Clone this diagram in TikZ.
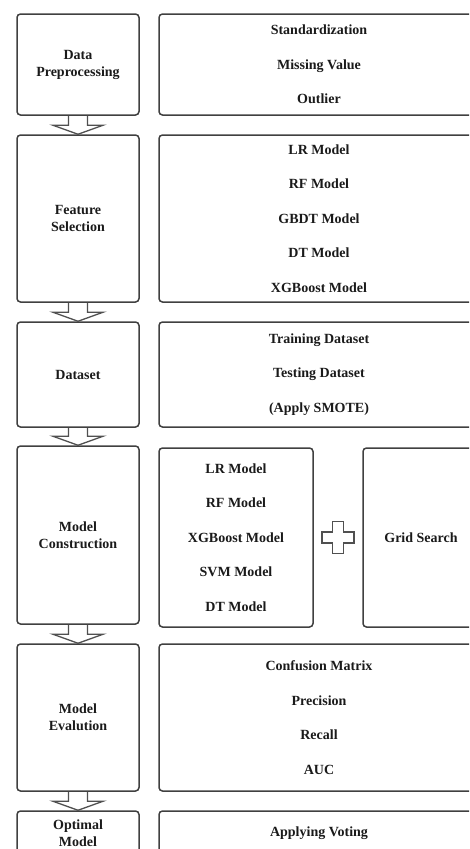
\documentclass[tikz,border=0pt]{standalone}
\usepackage{fontspec}
\setmainfont{Liberation Serif}
\usetikzlibrary{calc}
\definecolor{linec}{HTML}{404040}
\definecolor{arrc}{HTML}{505050}
\definecolor{txtc}{HTML}{1A1A1A}
\newcommand\blockarrow[2]{%
  \draw[arr] ($(#1.south)+(-9.5,0)$) -- ($(#2.north)+(-9.5,-9)$) -- ($(#2.north)+(-25,-9)$) -- (#2.north)
    -- ($(#2.north)+(25,-9)$) -- ($(#2.north)+(9.5,-9)$) -- ($(#1.south)+(9.5,0)$);}
\begin{document}
\begin{tikzpicture}[x=1pt,y=-1pt,
  box/.style={draw=linec, line width=1.5pt, rounded corners=3.5pt, inner sep=0pt, text=txtc, align=center},
  lft/.style={box, minimum width=122pt, font=\bfseries\fontsize{14}{17}\selectfont},
  rgt/.style={box, minimum width=320pt, font=\bfseries\fontsize{14}{34.5}\selectfont},
  arr/.style={draw=arrc, line width=1.3pt, line join=miter},
]
\useasboundingbox (0,0) rectangle (469,849);
\clip (0,0) rectangle (469,849);

% row 1
\node[lft, minimum height=101pt] (l1) at (78,64.5) {Data\\Preprocessing};
\node[rgt, minimum height=101pt] (r1) at (319,64.5) {Standardization\\Missing Value\\Outlier};
% row 2
\node[lft, minimum height=167pt] (l2) at (78,218.5) {Feature\\Selection};
\node[rgt, minimum height=167pt] (r2) at (319,218.5) {LR Model\\RF Model\\GBDT Model\\DT Model\\XGBoost Model};
% row 3
\node[lft, minimum height=105pt] (l3) at (78,374.5) {Dataset};
\node[rgt, minimum height=105pt] (r3) at (319,374.5) {Training Dataset\\Testing Dataset\\(Apply SMOTE)};
% row 4
\node[lft, minimum height=178pt] (l4) at (78,535) {Model\\Construction};
\node[box, minimum width=154pt, minimum height=179pt, font=\bfseries\fontsize{14}{34.5}\selectfont] (m4) at (236,537.5) {LR Model\\RF Model\\XGBoost Model\\SVM Model\\DT Model};
\node[box, minimum width=116pt, minimum height=179pt, font=\bfseries\fontsize{14}{17}\selectfont] (g4) at (421,537.5) {Grid Search};
% row 5
\node[lft, minimum height=147pt] (l5) at (78,717.5) {Model\\Evalution};
\node[rgt, minimum height=147pt] (r5) at (319,717.5) {Confusion Matrix\\Precision\\Recall\\AUC};
% row 6
\node[lft, minimum height=44pt] (l6) at (78,833) {Optimal\\Model};
\node[rgt, minimum height=44pt] (r6) at (319,833) {Applying Voting};

% block arrows
\blockarrow{l1}{l2}
\blockarrow{l2}{l3}
\blockarrow{l3}{l4}
\blockarrow{l4}{l5}
\blockarrow{l5}{l6}

% plus sign
\coordinate (pc) at ($(m4.east)!0.5!(g4.west)$);
\draw[arr] ($(pc)+(-5.5,-16)$) -- ($(pc)+(5.5,-16)$) -- ($(pc)+(5.5,-5.5)$) -- ($(pc)+(16,-5.5)$)
  -- ($(pc)+(16,5.5)$) -- ($(pc)+(5.5,5.5)$) -- ($(pc)+(5.5,16)$) -- ($(pc)+(-5.5,16)$)
  -- ($(pc)+(-5.5,5.5)$) -- ($(pc)+(-16,5.5)$) -- ($(pc)+(-16,-5.5)$) -- ($(pc)+(-5.5,-5.5)$) -- cycle;
\end{tikzpicture}
\end{document}
